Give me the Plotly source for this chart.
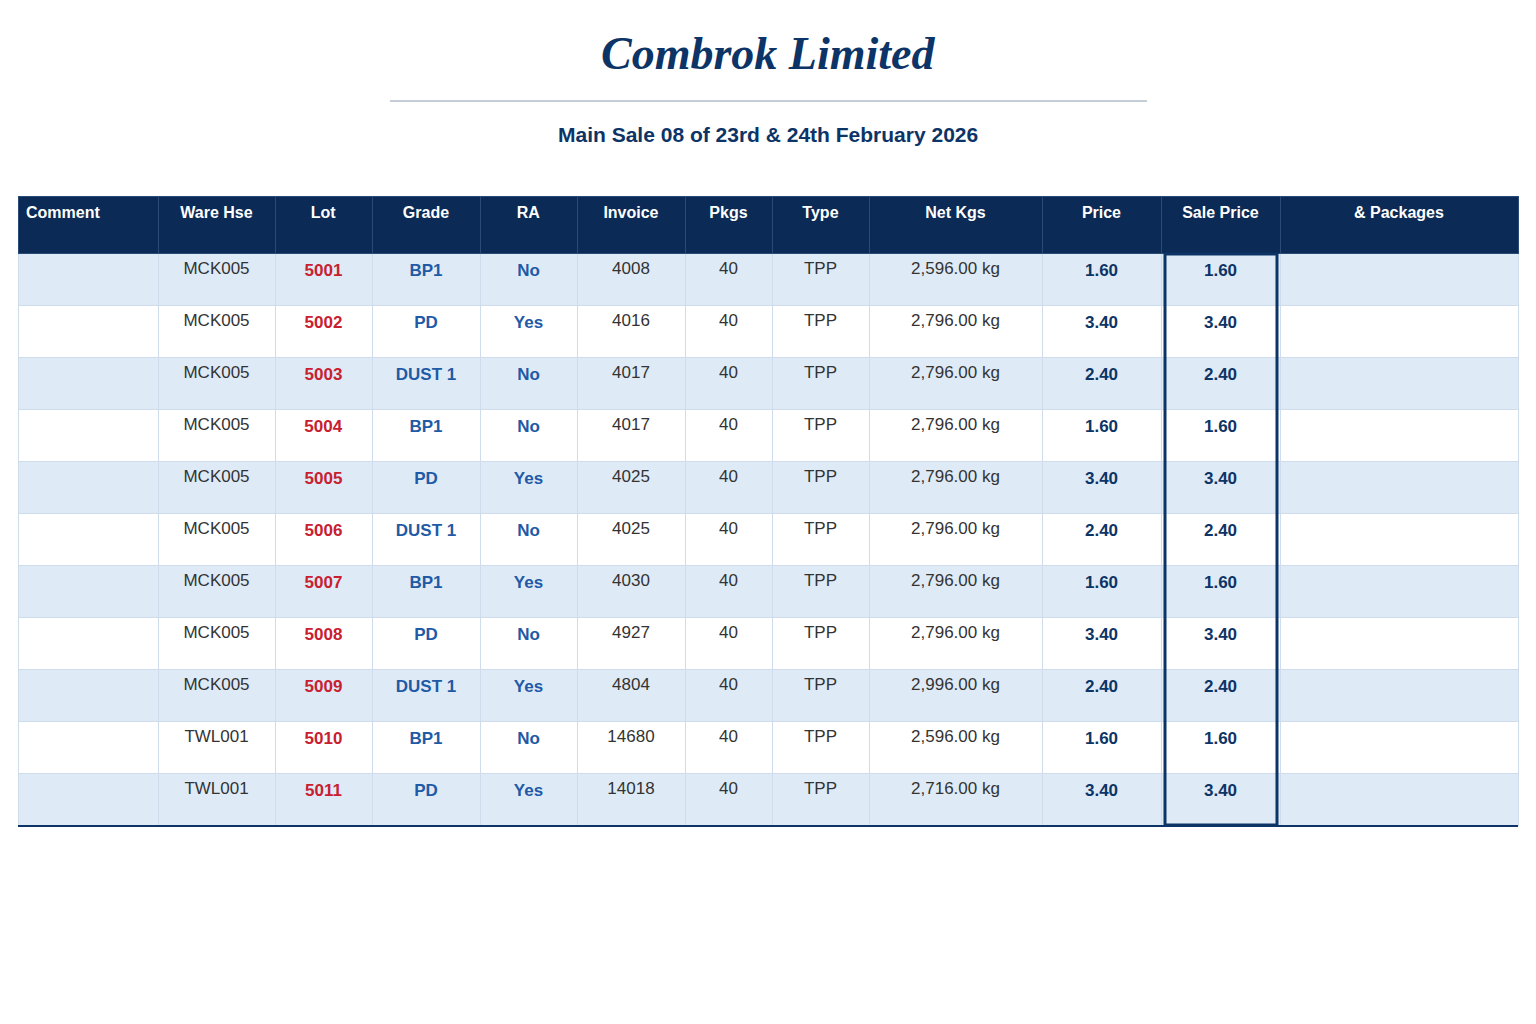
import plotly.graph_objects as go

headers = ["Comment", "Ware Hse", "Lot", "Grade", "RA", "Invoice", "Pkgs", "Type", "Net Kgs", "Price", "Sale Price", "& Packages"]
warehouse = ["MCK005"] * 9 + ["TWL001"] * 2
lots = ["5001", "5002", "5003", "5004", "5005", "5006", "5007", "5008", "5009", "5010", "5011"]
grades = ["BP1", "PD", "DUST 1", "BP1", "PD", "DUST 1", "BP1", "PD", "DUST 1", "BP1", "PD"]
ra = ["No", "Yes", "No", "No", "Yes", "No", "Yes", "No", "Yes", "No", "Yes"]
invoices = ["4008", "4016", "4017", "4017", "4025", "4025", "4030", "4927", "4804", "14680", "14018"]
pkgs = [40] * 11
types = ["TPP"] * 11
net_kgs = [2596, 2796, 2796, 2796, 2796, 2796, 2796, 2796, 2996, 2596, 2716]
prices = [1.60, 3.40, 2.40, 1.60, 3.40, 2.40, 1.60, 3.40, 2.40, 1.60, 3.40]
sale_prices = [1.60, 3.40, 2.40, 1.60, 3.40, 2.40, 1.60, 3.40, 2.40, 1.60, 3.40]

n = len(lots)
b = lambda L: [f"<b>{v}</b>" for v in L]
cols = [
    [""] * n, warehouse, b(lots), b(grades), b(ra), invoices, [str(p) for p in pkgs], types,
    [f"{v:,.2f} kg" for v in net_kgs], b([f"{v:.2f}" for v in prices]), b([f"{v:.2f}" for v in sale_prices]), [""] * n,
]
widths = [140, 117, 97, 108, 97, 108, 87, 97, 173, 119, 119, 238]
rowfill = ["#deebf7" if i % 2 == 0 else "#ffffff" for i in range(n)]
navy = "#0b2a55"
fcolors = ["#333", "#333", "#c8202f", "#1f5aa6", "#1f5aa6", "#333", "#333", "#333", "#333", "#0d3466", "#0d3466", "#333"]

W, H = 1536, 1024
o = 8  # page offset
fig = go.Figure(go.Table(
    domain=dict(x=[(18 - o) / W, (1518 - o) / W], y=[0, 1 - (196 - o) / H]),
    columnwidth=widths,
    header=dict(values=[f"<b>{h}</b>" for h in headers], fill_color=navy, height=57,
                font=dict(color="white", size=16, family="Liberation Sans"),
                align=["left"] + ["center"] * 11, line=dict(color="#2a4a78", width=1)),
    cells=dict(values=cols, fill_color=[rowfill] * 12, height=52,
               font=dict(color=fcolors, size=17, family="Liberation Sans"),
               align="center", line=dict(color="#cfdcec", width=1)),
))

fig.add_annotation(x=(768 - o) / W, y=1 - (53 - o) / H, xref="paper", yref="paper", showarrow=False,
                   yanchor="middle", text="<b><i>Combrok Limited</i></b>",
                   font=dict(family="Liberation Serif", size=46, color="#0d3466"))
fig.add_annotation(x=(768 - o) / W, y=1 - (134 - o) / H, xref="paper", yref="paper", showarrow=False,
                   yanchor="middle", text="<b>Main Sale 08 of 23rd & 24th February 2026</b>",
                   font=dict(family="Liberation Sans", size=21, color="#0d3466"))
fig.add_shape(type="line", xref="paper", yref="paper", x0=(390 - o) / W, x1=(1147 - o) / W,
              y0=1 - (101 - o) / H, y1=1 - (101 - o) / H, line=dict(color="#c5ced8", width=2))
fig.add_shape(type="rect", xref="paper", yref="paper", x0=(1165 - o) / W, x1=(1277 - o) / W,
              y0=1 - (825 - o) / H, y1=1 - (254 - o) / H, line=dict(color="#0d3466", width=3))
fig.add_shape(type="line", xref="paper", yref="paper", x0=(18 - o) / W, x1=(1518 - o) / W,
              y0=1 - (826 - o) / H, y1=1 - (826 - o) / H, line=dict(color="#0d3466", width=2))

fig.update_layout(width=W, height=H, margin=dict(l=0, r=0, t=0, b=0),
                  paper_bgcolor="white", plot_bgcolor="white")
fig.write_html("out.html")
